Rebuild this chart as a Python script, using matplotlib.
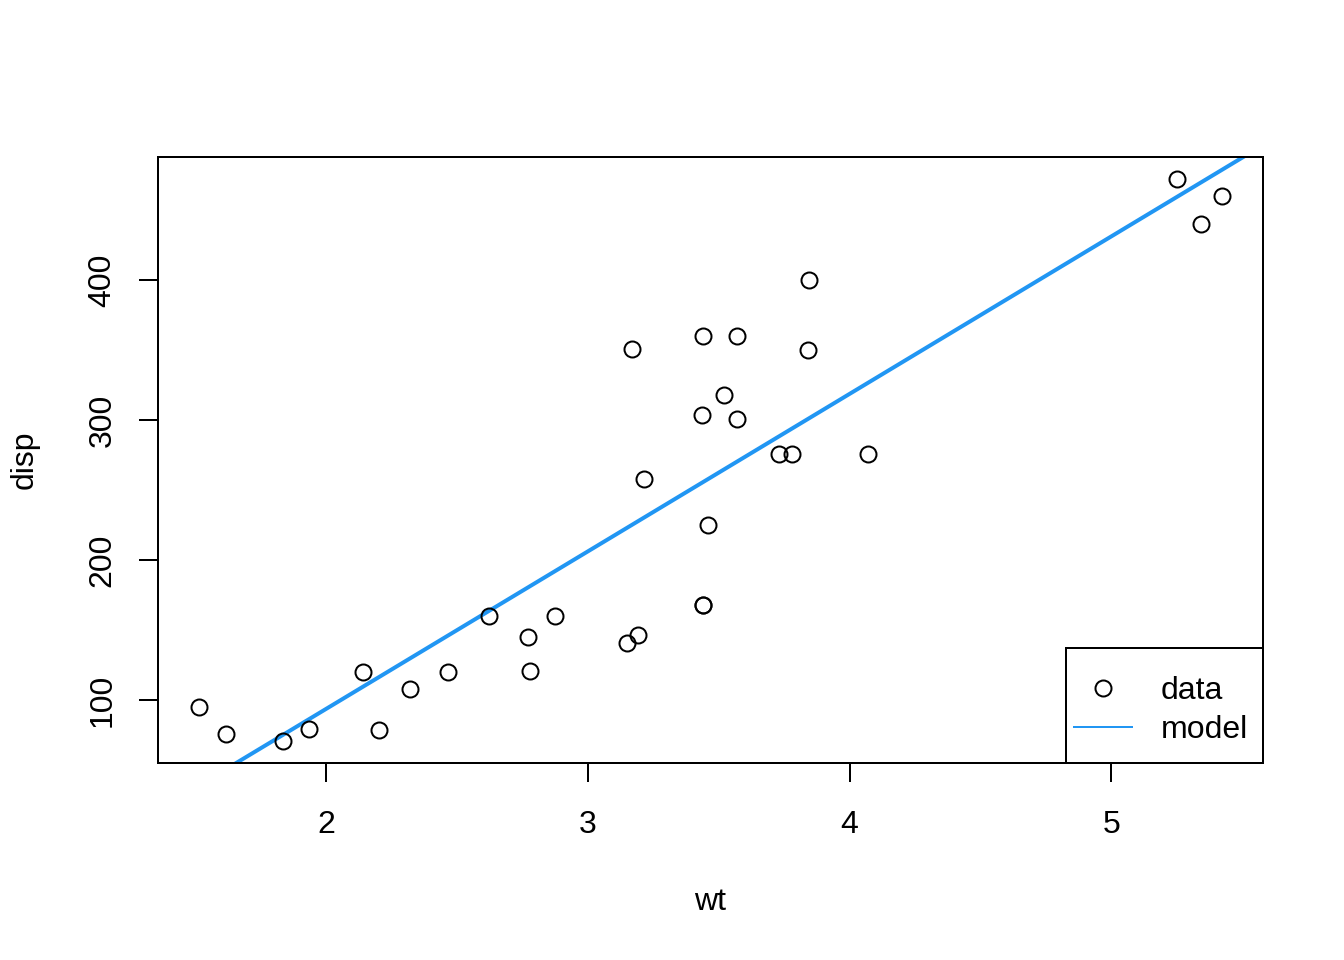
import matplotlib
matplotlib.use("Agg")
import matplotlib.pyplot as plt
from matplotlib.patches import Rectangle
import numpy as np

plt.rcParams['font.family'] = ['Liberation Sans', 'DejaVu Sans']

wt = [2.620, 2.875, 2.320, 3.215, 3.440, 3.460, 3.570, 3.190, 3.150, 3.440, 3.440,
      4.070, 3.730, 3.780, 5.250, 5.424, 5.345, 2.200, 1.615, 1.835, 2.465, 3.520,
      3.435, 3.840, 3.845, 1.935, 2.140, 1.513, 3.170, 2.770, 3.570, 2.780]
disp = [160, 160, 108, 258, 360, 225, 360, 146.7, 140.8, 167.6, 167.6,
        275.8, 275.8, 275.8, 472, 460, 440, 78.7, 75.7, 71.1, 120.1, 318,
        304, 350, 400, 79, 120.3, 95.1, 351, 145, 301, 121]
intercept = -131.148
slope = 112.478
xticks = [2, 3, 4, 5]
yticks = [100, 200, 300, 400]
legend_labels = ['data', 'model']
line_color = '#2196F3'

fig = plt.figure(figsize=(7, 5), dpi=192)
W, H = 1344, 960
AX_L, AX_R, AX_T, AX_B = 158, 1263, 157, 763
ax = fig.add_axes([AX_L / W, 1 - AX_B / H, (AX_R - AX_L) / W, (AX_B - AX_T) / H])

ax.plot(wt, disp, linestyle='none', marker='o', markersize=6, markerfacecolor='none',
        markeredgecolor='black', markeredgewidth=0.75, zorder=3)

xlim = (1.3566, 5.5804)
ylim = (55.06, 488.04)
xs = np.array(xlim)
ax.plot(xs, intercept + slope * xs, color=line_color, linewidth=1.5, zorder=2)
ax.set_xlim(*xlim)
ax.set_ylim(*ylim)

ax.set_xticks(xticks)
ax.set_yticks(yticks)
ax.tick_params(direction='out', length=7.2, width=0.75, labelsize=12, pad=8)
ax.tick_params(axis='x', pad=10.3)
ax.tick_params(axis='y', labelrotation=90)
for lab in ax.get_yticklabels():
    lab.set_va('center')
for s in ax.spines.values():
    s.set_linewidth(0.75)

ax.set_xlabel('wt', fontsize=12)
ax.xaxis.set_label_coords(0.5, -(902 - AX_B) / (AX_B - AX_T))
ax.xaxis.label.set_va('center')
ax.set_ylabel('disp', fontsize=12)
ax.yaxis.set_label_coords(-(AX_L - 25) / (AX_R - AX_L), 0.5)
ax.yaxis.label.set_va('center')


# legend (R-style box at bottom-right)
def fx(px):
    return (px - AX_L) / (AX_R - AX_L)


def fy(py):
    return (AX_B - py) / (AX_B - AX_T)


box_left, box_top = 1066, 648
ax.add_patch(Rectangle((fx(box_left), 0), 1 - fx(box_left), fy(box_top),
                       transform=ax.transAxes, facecolor='white', edgecolor='black',
                       linewidth=0.75, zorder=5, clip_on=False))
row_y = [688, 727]
ax.plot([fx(1103)], [fy(row_y[0])], transform=ax.transAxes, linestyle='none',
        marker='o', markersize=6, markerfacecolor='none', markeredgecolor='black',
        markeredgewidth=0.75, zorder=6, clip_on=False)
ax.plot([fx(1074), fx(1132)], [fy(row_y[1])] * 2, transform=ax.transAxes,
        color=line_color, linewidth=0.75, zorder=6, clip_on=False)
for lab, y in zip(legend_labels, row_y):
    ax.text(fx(1161), fy(y + 3), lab, transform=ax.transAxes, fontsize=12,
            ha='left', va='center', zorder=7)

fig.savefig('out.png', dpi=192)
